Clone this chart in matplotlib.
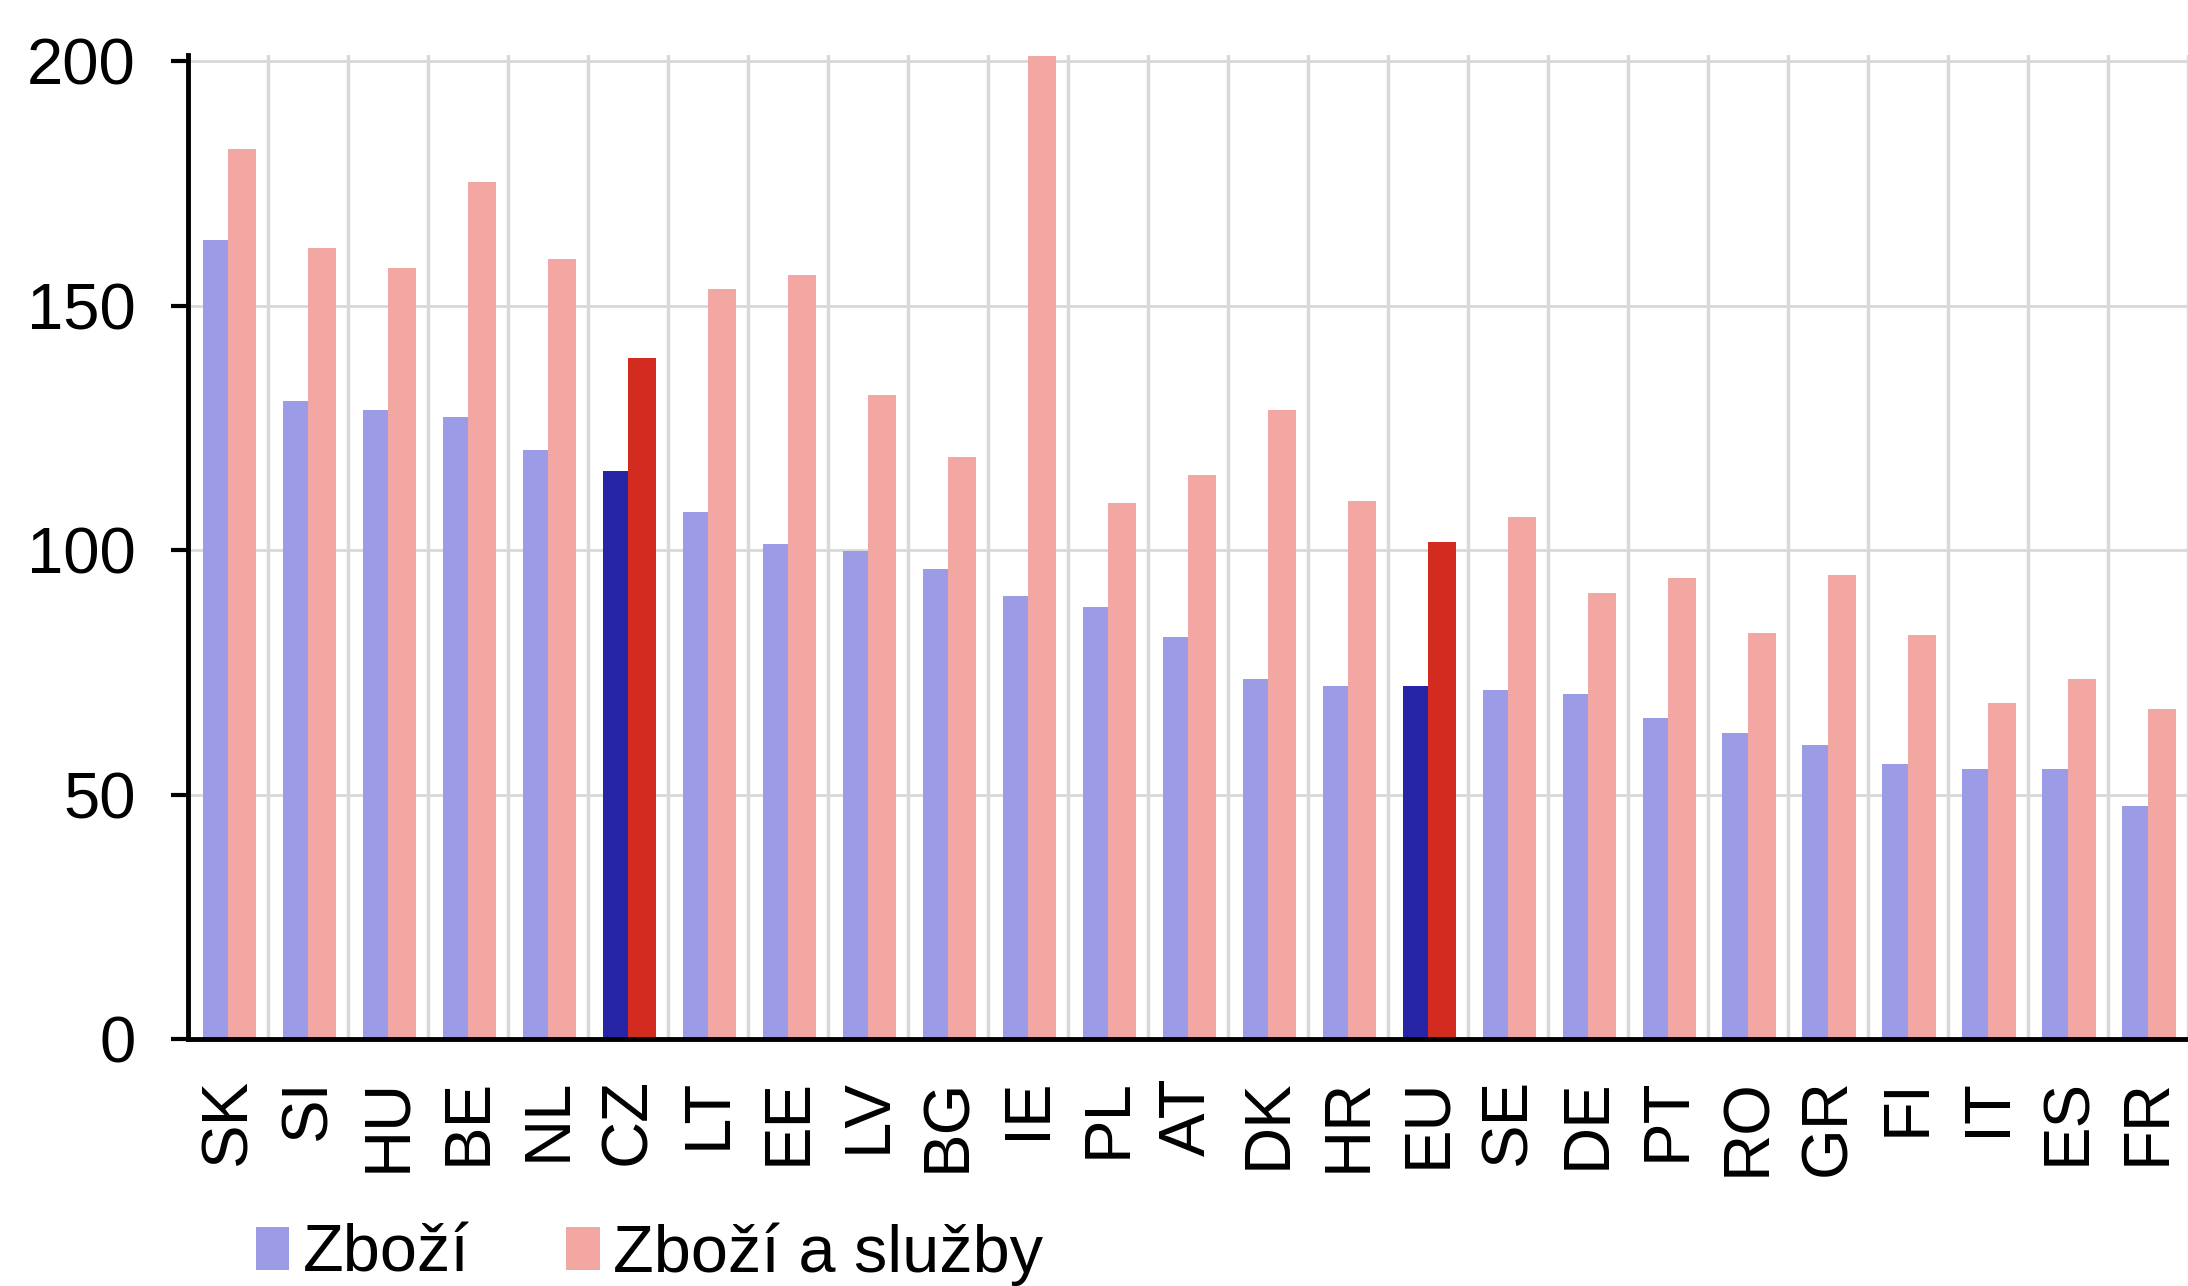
import matplotlib
matplotlib.use("Agg")
import matplotlib.pyplot as plt
from matplotlib.patches import Patch
import numpy as np

plt.rcParams['font.family'] = ['Liberation Sans', 'DejaVu Sans']

countries = ["SK", "SI", "HU", "BE", "NL", "CZ", "LT", "EE", "LV", "BG", "IE", "PL", "AT",
             "DK", "HR", "EU", "SE", "DE", "PT", "RO", "GR", "FI", "IT", "ES", "FR"]
goods = [163.5, 130.4, 128.7, 127.2, 120.4, 116.1, 107.8, 101.3, 99.9, 96.1, 90.7, 88.4, 82.2,
         73.6, 72.2, 72.2, 71.3, 70.5, 65.6, 62.5, 60.2, 56.2, 55.3, 55.3, 47.6]
goods_services = [182.0, 161.8, 157.8, 175.2, 159.5, 139.2, 153.5, 156.3, 131.8, 119.0, 201.0,
                  109.6, 115.3, 128.7, 110.1, 101.6, 106.7, 91.3, 94.2, 83.0, 95.0, 82.7, 68.8,
                  73.6, 67.6]
highlight = ["CZ", "EU"]
legend_labels = ["Zboží", "Zboží a služby"]

c_goods, c_gs = "#9c9ce6", "#f2a7a2"
c_goods_h, c_gs_h = "#2525a6", "#d42b20"

fig = plt.figure(figsize=(21.88, 12.86), dpi=100)
ax = fig.add_axes([0.0861, 0.192, 1 - 0.0861, 0.765])

x = np.arange(len(countries))
col_g = [c_goods_h if c in highlight else c_goods for c in countries]
col_s = [c_gs_h if c in highlight else c_gs for c in countries]
ax.bar(x - 0.32, goods, width=0.32, align='edge', color=col_g, zorder=3)
ax.bar(x, goods_services, width=0.35, align='edge', color=col_s, zorder=3)

ax.set_xlim(-0.5, 24.32)
ax.set_ylim(0, 201.2)
ax.set_yticks([0, 50, 100, 150, 200])
ax.set_xticks(x)
ax.set_xticklabels(countries, rotation=90, fontsize=47)
ax.set_xticks(np.arange(0.5, 25, 1), minor=True)

ax.grid(False)
for yv in [50, 100, 150, 200]:
    ax.axhline(yv, color="#d8d8d8", lw=2, zorder=1)
ax.xaxis.grid(True, which='minor', color="#d8d8d8", lw=2.5, zorder=1)

ax.tick_params(axis='y', labelsize=47, length=12, width=3, pad=26, direction='out')
ax.tick_params(axis='x', which='major', length=0, pad=28)
ax.tick_params(axis='x', which='minor', length=0)

for s in ['top', 'right']:
    ax.spines[s].set_visible(False)
for s in ['left', 'bottom']:
    ax.spines[s].set_linewidth(3.5)
    ax.spines[s].set_color('black')
ax.spines['bottom'].set_zorder(4)

handles = [Patch(facecolor=c_goods, edgecolor='none'), Patch(facecolor=c_gs, edgecolor='none')]
fig.legend(handles, legend_labels, loc='lower left', bbox_to_anchor=(0.117, 0.0),
           ncol=2, frameon=False, fontsize=48, handlelength=0.5, handleheight=0.6,
           handletextpad=0.2, columnspacing=1.45, borderpad=0, borderaxespad=0)

fig.savefig("out.png", dpi=100)
